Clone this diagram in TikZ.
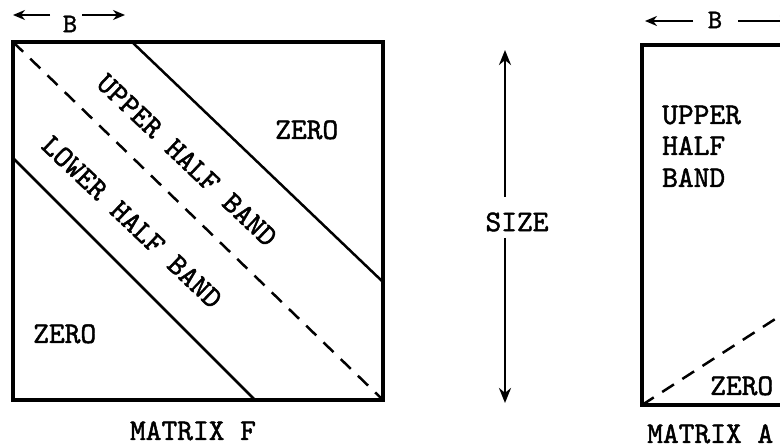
\documentclass[tikz,border=0pt]{standalone}
\usepackage{fontspec}
\newfontfamily\twfont[FakeBold=1.6]{lmmono10-regular.otf}
\usetikzlibrary{arrows.meta}
\begin{document}
\begin{tikzpicture}[x=1pt,y=-1pt,
  lbl/.style={font=\fontsize{30}{34}\selectfont\twfont, inner sep=0pt},
  lblb/.style={font=\fontsize{27}{30}\selectfont\twfont, inner sep=0pt},
  box/.style={line width=3.2pt, line join=miter},
  bandline/.style={line width=2.5pt},
  diag/.style={line width=2.5pt, dash pattern=on 14pt off 10pt},
  dim/.style={line width=2.8pt, -{Stealth[length=15pt,width=12pt]}},
  dimb/.style={line width=2.6pt, -{Stealth[length=12pt,width=10pt]}},
]
\useasboundingbox (0,0) rectangle (780,446);
\clip (0,0) rectangle (780,446);

% ---------- Matrix F ----------
\coordinate (Fnw) at (13,42);
\coordinate (Fse) at (383,400);
\draw[box] (Fnw) rectangle (Fse);
\coordinate (Ua) at (132,42);
\coordinate (Ub) at (383,282);
\coordinate (La) at (13,158);
\coordinate (Lb) at (255,400);
\draw[bandline] (Ua) -- (Ub);
\draw[bandline] (La) -- (Lb);
\draw[diag] (Fnw) -- (Fse);

\node[lbl, rotate=-43.5] (uhb) at (187,160) {UPPER HALF BAND};
\node[lbl, rotate=-43.5] (lhb) at (132,222) {LOWER HALF BAND};
\node[lbl, anchor=base west] (zf1) at (275,139) {ZERO};
\node[lbl, anchor=base west] (zf2) at (33,343) {ZERO};
\node[lbl, anchor=base] (mf) at (193,440) {MATRIX F};

% B dimension for F
\node[lblb] (bF) at (70,24) {B};
\coordinate (bFl0) at (50,15);
\coordinate (bFl1) at (13,15);
\coordinate (bFr0) at (82,15);
\coordinate (bFr1) at (125,15);
\draw[dimb] (bFl0) -- (bFl1);
\draw[dimb] (bFr0) -- (bFr1);

% ---------- SIZE ----------
\node[lbl] (size) at (517,222) {SIZE};
\coordinate (s0) at (505,197);
\coordinate (s1) at (505,50);
\coordinate (s2) at (505,238);
\coordinate (s3) at (505,403);
\draw[dim] (s0) -- (s1);
\draw[dim] (s2) -- (s3);

% ---------- Matrix A ----------
\coordinate (Anw) at (642,45);
\coordinate (Asw) at (642,405);
\coordinate (Ane) at (800,45);
\coordinate (Ase) at (800,405);
\draw[box] (Ane) -- (Anw) -- (Asw) -- (Ase);
\coordinate (Ad) at (800,303);
\draw[diag] (Asw) -- (Ad);

\node[lbl, anchor=base west] (au) at (662,124) {UPPER};
\node[lbl, anchor=base west] (ah) at (662,155) {HALF};
\node[lbl, anchor=base west] (ab) at (662,187) {BAND};
\node[lbl, anchor=base west] (za) at (710,395) {ZERO};
\node[lbl, anchor=base west] (ma) at (647,443) {MATRIX A};

% B dimension for A
\node[lblb] (bA) at (715,20) {B};
\coordinate (bAl0) at (693,21);
\coordinate (bAl1) at (645,21);
\coordinate (bAr0) at (738,21);
\coordinate (bAr1) at (792,21);
\draw[dimb] (bAl0) -- (bAl1);
\draw[dimb] (bAr0) -- (bAr1);
\end{tikzpicture}
\end{document}
